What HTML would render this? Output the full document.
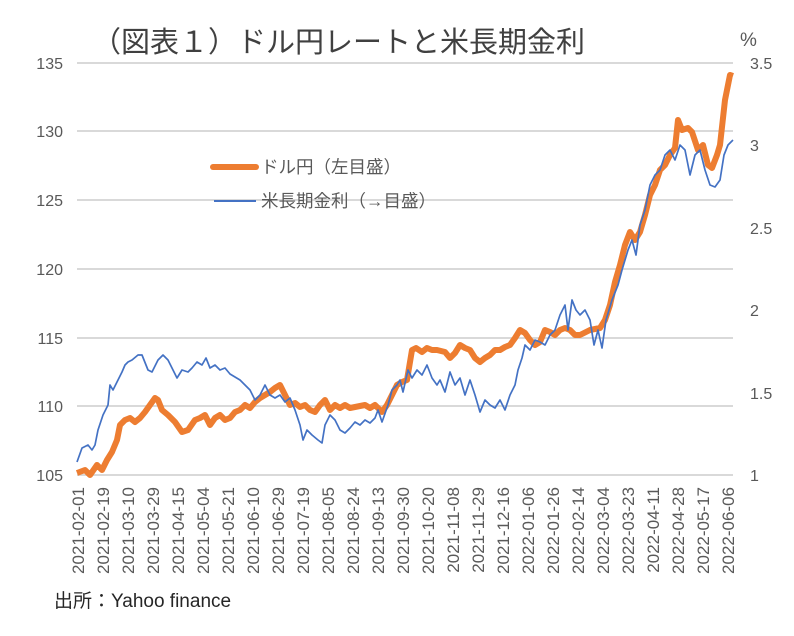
<!DOCTYPE html>
<html><head><meta charset="utf-8"><style>
body{margin:0;background:#fff}
text{font-family:"Liberation Sans","Noto Sans CJK JP",sans-serif}
</style></head><body>
<svg width="794" height="631" xmlns="http://www.w3.org/2000/svg">
<rect width="794" height="631" fill="#fff"/>
<text x="92" y="52" font-size="29" fill="#404040">（図表１）ドル円レートと米長期金利</text>
<text x="740" y="46" font-size="19" fill="#595959">%</text>
<g stroke="#d9d9d9" stroke-width="2">
<line x1="77" y1="63" x2="733" y2="63"/><line x1="77" y1="131" x2="733" y2="131"/>
<line x1="77" y1="200" x2="733" y2="200"/><line x1="77" y1="269" x2="733" y2="269"/>
<line x1="77" y1="338" x2="733" y2="338"/><line x1="77" y1="406" x2="733" y2="406"/>
<line x1="77" y1="475" x2="733" y2="475"/>
</g>
<g font-size="16" fill="#595959" text-anchor="end">
<text x="63" y="69">135</text><text x="63" y="137">130</text><text x="63" y="206">125</text>
<text x="63" y="275">120</text><text x="63" y="344">115</text><text x="63" y="412">110</text><text x="63" y="481">105</text>
</g>
<g font-size="16" fill="#595959">
<text x="750" y="69">3.5</text><text x="750" y="151">3</text><text x="750" y="234">2.5</text>
<text x="750" y="316">2</text><text x="750" y="399">1.5</text><text x="750" y="481">1</text>
</g>
<polyline fill="none" stroke="#ed7d31" stroke-width="6" stroke-linejoin="round" points="77,473 85,470 90,475 97,465 102,470 107,460 112,452 117,440 120,425 125,420 130,418 135,422 140,418 145,412 150,405 155,398 158,400 162,410 168,415 175,422 182,432 188,430 195,420 200,418 205,415 210,425 215,418 220,415 225,420 230,418 235,412 240,410 245,405 250,408 255,402 260,398 265,395 270,392 275,388 280,385 285,395 290,405 295,403 300,407 305,405 310,410 315,412 320,405 325,400 330,410 335,405 340,408 345,405 350,408 360,406 365,405 370,408 375,405 382,412 387,405 392,395 397,385 402,382 407,380 412,350 416,348 422,352 427,348 432,350 437,350 445,352 450,358 455,353 460,345 465,348 470,350 475,358 480,362 485,358 490,355 495,350 500,350 505,347 510,345 515,338 520,330 525,333 530,340 535,345 540,342 545,330 550,332 555,335 560,330 565,328 570,330 575,335 580,335 590,330 600,328 605,320 610,305 615,282 620,265 625,245 630,232 635,240 640,232 645,215 650,195 655,185 660,170 665,165 670,155 675,148 678,120 682,130 688,128 692,132 698,150 703,145 708,165 712,168 717,155 720,145 725,100 730,75 733,76"/>
<polyline fill="none" stroke="#4472c4" stroke-width="1.7" stroke-linejoin="round" points="77,462 82,448 88,445 92,450 95,445 98,430 103,415 108,405 110,385 113,390 118,380 122,372 125,365 128,362 132,360 138,355 142,355 148,370 152,372 158,360 163,355 168,360 172,368 177,378 182,370 188,372 192,368 197,362 202,365 206,358 210,368 215,365 220,370 225,368 230,374 235,377 240,380 245,385 250,390 255,400 260,395 265,385 270,395 275,398 280,395 285,402 290,398 295,410 300,425 303,440 307,430 312,435 318,440 322,443 325,425 330,415 335,420 340,430 345,433 350,428 355,422 360,425 365,420 370,423 375,418 378,410 382,422 388,405 392,390 397,385 400,380 403,392 408,370 412,378 417,370 422,375 427,365 432,378 437,385 440,380 445,392 450,372 455,385 460,378 465,395 470,380 475,395 480,412 485,400 490,405 495,408 500,400 505,410 510,395 515,385 518,370 522,358 525,345 530,350 535,340 540,342 545,345 550,335 555,330 560,315 565,305 568,330 572,300 576,310 580,315 585,310 590,320 594,345 598,330 602,348 606,320 612,300 618,285 622,270 628,250 632,240 636,255 640,225 645,210 650,185 655,175 660,170 665,155 670,150 675,160 680,145 685,150 690,175 695,155 700,150 705,170 710,185 715,187 720,180 724,155 728,145 733,140"/>
<line x1="213" y1="167" x2="256" y2="167" stroke="#ed7d31" stroke-width="6" stroke-linecap="round"/>
<text x="261" y="173" font-size="17.5" fill="#595959">ドル円（左目盛）</text>
<line x1="214" y1="201" x2="256" y2="201" stroke="#4472c4" stroke-width="2"/>
<text x="261" y="207" font-size="17.5" fill="#595959">米長期金利（→目盛）</text>
<g font-size="17" fill="#595959" text-anchor="end">
<text transform="translate(84,487) rotate(-90)">2021-02-01</text>
<text transform="translate(109,487) rotate(-90)">2021-02-19</text>
<text transform="translate(134,487) rotate(-90)">2021-03-10</text>
<text transform="translate(159,487) rotate(-90)">2021-03-29</text>
<text transform="translate(184,487) rotate(-90)">2021-04-15</text>
<text transform="translate(209,487) rotate(-90)">2021-05-04</text>
<text transform="translate(234,487) rotate(-90)">2021-05-21</text>
<text transform="translate(259,487) rotate(-90)">2021-06-10</text>
<text transform="translate(284,487) rotate(-90)">2021-06-29</text>
<text transform="translate(309,487) rotate(-90)">2021-07-19</text>
<text transform="translate(334,487) rotate(-90)">2021-08-05</text>
<text transform="translate(359,487) rotate(-90)">2021-08-24</text>
<text transform="translate(384,487) rotate(-90)">2021-09-13</text>
<text transform="translate(409,487) rotate(-90)">2021-09-30</text>
<text transform="translate(434,487) rotate(-90)">2021-10-20</text>
<text transform="translate(459,487) rotate(-90)">2021-11-08</text>
<text transform="translate(484,487) rotate(-90)">2021-11-29</text>
<text transform="translate(509,487) rotate(-90)">2021-12-16</text>
<text transform="translate(534,487) rotate(-90)">2022-01-06</text>
<text transform="translate(559,487) rotate(-90)">2022-01-26</text>
<text transform="translate(584,487) rotate(-90)">2022-02-14</text>
<text transform="translate(609,487) rotate(-90)">2022-03-04</text>
<text transform="translate(634,487) rotate(-90)">2022-03-23</text>
<text transform="translate(659,487) rotate(-90)">2022-04-11</text>
<text transform="translate(684,487) rotate(-90)">2022-04-28</text>
<text transform="translate(709,487) rotate(-90)">2022-05-17</text>
<text transform="translate(734,487) rotate(-90)">2022-06-06</text>
</g>
<text x="54" y="607" font-size="19" fill="#262626">出所：Yahoo finance</text>
</svg>
</body></html>
